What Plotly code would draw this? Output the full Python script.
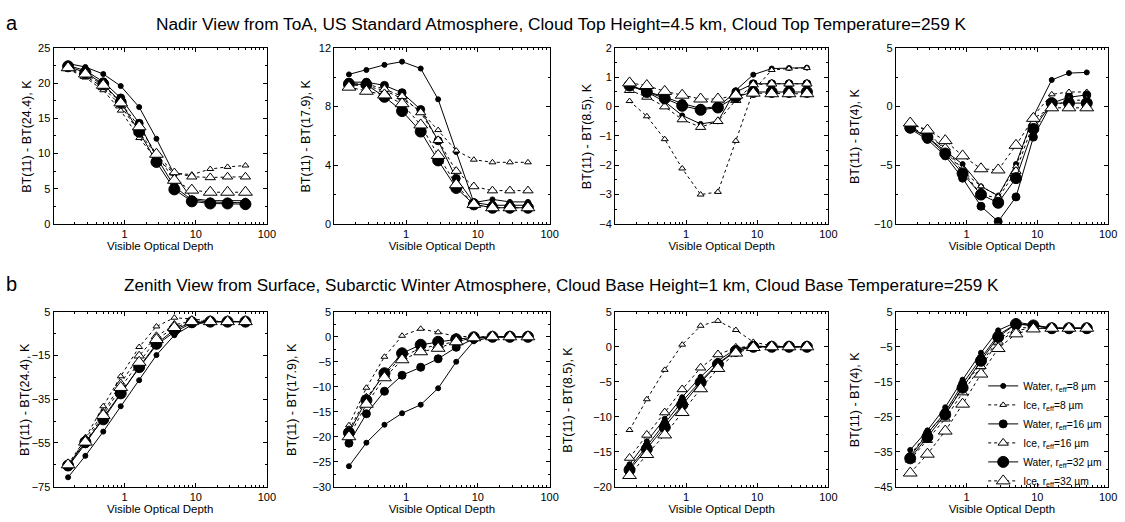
import plotly.graph_objects as go

# Visible optical depth (x values shared by every panel)
tau = [0.16, 0.28, 0.5, 0.88, 1.6, 2.8, 5.0, 8.8, 16, 28, 50]

series_names = ["Water, r<sub>eff</sub>=8 µm", "Ice, r<sub>eff</sub>=8 µm",
                "Water, r<sub>eff</sub>=16 µm", "Ice, r<sub>eff</sub>=16 µm",
                "Water, r<sub>eff</sub>=32 µm", "Ice, r<sub>eff</sub>=32 µm"]

# Row a: Nadir view from ToA
a1_w8 = [22.8, 22.3, 21.3, 19.6, 16.6, 12.1, 7.0, 3.6, 3.3, 3.3, 3.3]
a1_i8 = [22.0, 20.8, 19.0, 16.1, 12.2, 9.2, 7.2, 7.0, 7.8, 8.1, 8.3]
a1_w16 = [22.5, 21.8, 20.2, 17.9, 14.3, 9.5, 5.3, 3.4, 3.1, 3.0, 3.0]
a1_i16 = [22.1, 21.0, 19.4, 16.8, 13.0, 9.8, 7.3, 6.7, 6.6, 6.7, 6.7]
a1_w32 = [22.4, 21.5, 19.9, 17.3, 13.1, 8.8, 4.9, 3.2, 2.9, 2.9, 2.8]
a1_i32 = [22.2, 21.3, 19.7, 17.2, 13.8, 9.9, 6.2, 4.8, 4.5, 4.5, 4.5]

a2_w8 = [10.2, 10.5, 10.85, 11.07, 10.6, 8.5, 4.9, 1.45, 1.67, 1.5, 1.5]
a2_i8 = [9.5, 9.4, 9.1, 8.55, 7.7, 6.4, 5.0, 4.38, 4.2, 4.2, 4.2]
a2_w16 = [9.67, 9.67, 9.45, 8.95, 7.8, 5.67, 3.1, 1.45, 1.27, 1.27, 1.27]
a2_i16 = [9.55, 9.55, 9.2, 8.7, 7.6, 5.7, 3.6, 2.55, 2.27, 2.27, 2.27]
a2_w32 = [9.55, 9.5, 8.67, 7.7, 6.3, 4.33, 2.45, 1.33, 1.1, 1.1, 1.1]
a2_i32 = [9.33, 9.05, 8.8, 8.2, 6.75, 4.67, 2.67, 1.33, 1.1, 1.1, 1.1]

a3_w8 = [0.72, 0.5, 0.17, -0.3, -0.59, -0.5, 0.56, 1.09, 1.3, 1.32, 1.33]
a3_i8 = [0.19, -0.33, -1.11, -2.11, -3.0, -2.91, -1.17, 0.55, 1.25, 1.3, 1.32]
a3_w16 = [0.74, 0.52, 0.33, 0.11, -0.06, 0.0, 0.5, 0.78, 0.78, 0.78, 0.78]
a3_i16 = [0.56, 0.33, 0.0, -0.44, -0.7, -0.5, 0.22, 0.75, 0.78, 0.78, 0.78]
a3_w32 = [0.72, 0.5, 0.28, 0.03, -0.11, -0.03, 0.33, 0.5, 0.5, 0.5, 0.5]
a3_i32 = [0.81, 0.72, 0.52, 0.39, 0.26, 0.26, 0.39, 0.46, 0.44, 0.44, 0.44]

a4_w8 = [-1.8, -2.6, -3.8, -4.9, -6.8, -7.6, -4.9, -0.83, 2.28, 2.86, 2.92]
a4_i8 = [-1.4, -2.1, -3.75, -5.5, -6.8, -7.6, -5.1, -0.8, 1.05, 1.25, 1.25]
a4_w16 = [-1.9, -2.8, -4.2, -6.1, -8.5, -9.8, -7.7, -2.6, 0.3, 0.8, 1.0]
a4_i16 = [-1.7, -2.5, -3.5, -5.4, -7.5, -7.8, -5.5, -1.4, 0.0, 0.55, 0.55]
a4_w32 = [-1.8, -2.6, -4.0, -5.7, -7.5, -8.2, -6.1, -1.9, 0.3, 0.3, 0.3]
a4_i32 = [-1.4, -2.0, -2.9, -4.2, -5.3, -5.4, -3.3, -1.0, -0.1, -0.1, -0.1]

# Row b: Zenith view from surface
b1_w8 = [-70.7, -60.9, -49.8, -38.2, -26.3, -14.8, -5.7, -1.0, 0.5, 0.5, 0.5]
b1_i8 = [-66.5, -52.4, -38.2, -24.5, -11.1, -1.7, 2.3, 1.7, 0.8, 0.6, 0.6]
b1_w16 = [-65.8, -55.4, -43.4, -32.3, -20.6, -10.2, -4.2, -0.2, 0.5, 0.5, 0.5]
b1_i16 = [-64.7, -53.4, -41.2, -27.8, -15.1, -6.2, -1.0, 0.8, 0.5, 0.5, 0.5]
b1_w32 = [-65.3, -54.6, -44.2, -32.3, -20.3, -9.6, -3.2, 0.2, 0.5, 0.5, 0.5]
b1_i32 = [-65.0, -54.6, -42.4, -29.6, -18.1, -7.7, -2.2, 0.5, 0.5, 0.5, 0.5]

b2_w8 = [-25.9, -21.2, -17.6, -15.3, -13.6, -10.3, -5.0, -0.9, 0.0, 0.0, 0.0]
b2_i8 = [-17.7, -10.2, -4.0, 0.2, 1.6, 0.9, 0.1, 0.0, 0.0, 0.0, 0.0]
b2_w16 = [-21.3, -15.4, -10.9, -7.7, -6.1, -4.4, -2.1, -0.4, 0.0, 0.0, 0.0]
b2_i16 = [-18.7, -12.2, -7.6, -4.0, -2.3, -1.7, -0.9, -0.2, 0.0, 0.0, 0.0]
b2_w32 = [-19.2, -12.7, -7.3, -3.3, -1.6, -1.0, -0.5, -0.1, 0.0, 0.0, 0.0]
b2_i32 = [-20.0, -13.5, -8.2, -4.6, -3.0, -2.3, -1.0, -0.2, 0.0, 0.0, 0.0]

b3_w8 = [-16.8, -13.5, -10.3, -7.2, -4.3, -2.0, -0.3, 0.1, 0.0, 0.0, 0.0]
b3_i8 = [-11.9, -7.5, -3.3, 0.3, 3.0, 3.7, 2.4, 0.7, 0.1, 0.0, 0.0]
b3_w16 = [-17.3, -14.2, -11.0, -7.8, -4.9, -2.4, -0.5, 0.0, 0.0, 0.0, 0.0]
b3_i16 = [-15.9, -12.6, -9.4, -6.1, -3.0, -1.1, -0.15, 0.1, 0.0, 0.0, 0.0]
b3_w32 = [-17.6, -14.6, -11.5, -8.3, -5.1, -2.5, -0.6, 0.0, 0.0, 0.0, 0.0]
b3_i32 = [-18.4, -15.4, -12.6, -9.4, -6.0, -3.1, -0.9, -0.1, 0.0, 0.0, 0.0]

b4_w8 = [-34.5, -28.9, -22.3, -14.4, -6.7, -0.3, 2.0, 1.3, 0.3, 0.3, 0.3]
b4_i8 = [-35.9, -29.6, -24.2, -16.7, -9.7, -3.1, 0.6, 0.3, 0.3, 0.3, 0.3]
b4_w16 = [-36.4, -29.8, -23.7, -15.6, -8.3, -1.6, 1.5, 1.1, 0.3, 0.3, 0.3]
b4_i16 = [-37.3, -31.7, -25.6, -18.1, -10.6, -3.6, -0.3, 0.3, 0.3, 0.3, 0.3]
b4_w32 = [-36.9, -30.8, -24.4, -16.7, -9.0, -2.2, 1.5, 1.1, 0.3, 0.3, 0.3]
b4_i32 = [-41.1, -35.7, -29.1, -21.4, -12.8, -5.5, -1.3, 0.1, 0.3, 0.3, 0.3]

panels = [
    [a1_w8, a1_i8, a1_w16, a1_i16, a1_w32, a1_i32],
    [a2_w8, a2_i8, a2_w16, a2_i16, a2_w32, a2_i32],
    [a3_w8, a3_i8, a3_w16, a3_i16, a3_w32, a3_i32],
    [a4_w8, a4_i8, a4_w16, a4_i16, a4_w32, a4_i32],
    [b1_w8, b1_i8, b1_w16, b1_i16, b1_w32, b1_i32],
    [b2_w8, b2_i8, b2_w16, b2_i16, b2_w32, b2_i32],
    [b3_w8, b3_i8, b3_w16, b3_i16, b3_w32, b3_i32],
    [b4_w8, b4_i8, b4_w16, b4_i16, b4_w32, b4_i32],
]

y_titles = ["BT(11) - BT(24.4), K", "BT(11) - BT(17.9), K", "BT(11) - BT(8.5), K", "BT(11) - BT(4), K",
            "BT(11) - BT(24.4), K", "BT(11) - BT(17.9), K", "BT(11) - BT(8.5), K", "BT(11) - BT(4), K"]
y_ranges = [(0, 25), (0, 12), (-4, 2), (-10, 5), (-75, 5), (-30, 5), (-20, 5), (-45, 5)]
y_dticks = [5, 4, 1, 5, 20, 5, 5, 10]
x_ticks = [1, 10, 100]
x_minor = [m * d for d in (0.1, 1, 10) for m in range(2, 10)]
x_title = "Visible Optical Depth"

title_a = "Nadir View from ToA, US Standard Atmosphere, Cloud Top Height=4.5 km, Cloud Top Temperature=259 K"
title_b = "Zenith View from Surface, Subarctic Winter Atmosphere, Cloud Base Height=1 km, Cloud Base Temperature=259 K"

# ---------------- styling / layout ----------------
W, H = 1125, 522
col_px = [(54, 269), (337, 554), (620, 835), (903, 1117)]
row_px = [(43, 223), (313, 492)]
ytitle_x_px = [27, 308, 592, 862, 25, 295, 573, 862]
FONT = "Arial, Liberation Sans, Helvetica, sans-serif"

styles = [
    dict(symbol="circle", size=5, fill="black", dash="solid"),
    dict(symbol="triangle-up", size=6, fill="white", dash="dot"),
    dict(symbol="circle", size=8, fill="black", dash="solid"),
    dict(symbol="triangle-up", size=9, fill="white", dash="dot"),
    dict(symbol="circle", size=11, fill="black", dash="solid"),
    dict(symbol="triangle-up", size=12, fill="white", dash="dot"),
]

fig = go.Figure()
layout = {}
annotations = []
for p, series in enumerate(panels):
    r, c = divmod(p, 4)
    ax = "" if p == 0 else str(p + 1)
    for s, (vals, st) in enumerate(zip(series, styles)):
        fig.add_trace(go.Scatter(
            x=tau, y=vals, mode="lines+markers", name=series_names[s],
            xaxis="x" + ax, yaxis="y" + ax,
            showlegend=(p == 7),
            line=dict(color="black", width=1, dash=st["dash"]),
            marker=dict(symbol=st["symbol"], size=st["size"], color=st["fill"],
                        line=dict(color="black", width=1)),
        ))
    x0, x1 = col_px[c]
    y0, y1 = row_px[r]
    common = dict(showline=True, linecolor="black", linewidth=1, mirror="ticks",
                  ticks="inside", ticklen=4, tickcolor="black", showgrid=False,
                  zeroline=False, tickfont=dict(size=11, color="black", family=FONT))
    layout["xaxis" + ax] = dict(
        common, type="log", range=[-1, 2], domain=[x0 / W, x1 / W],
        anchor="y" + ax, tickmode="array", tickvals=x_ticks, ticktext=[str(v) for v in x_ticks],
        minor=dict(ticks="inside", ticklen=2, tickcolor="black", showgrid=False,
                   tickmode="array", tickvals=x_minor),
        title=dict(text=x_title, font=dict(size=11.5, color="black", family=FONT), standoff=2),
    )
    lo, hi = y_ranges[p]
    layout["yaxis" + ax] = dict(
        common, range=[lo, hi], domain=[1 - y1 / H, 1 - y0 / H], anchor="x" + ax,
        tick0=hi, dtick=y_dticks[p],
        minor=dict(ticks="inside", ticklen=2, tickcolor="black", dtick=y_dticks[p] / 2, tick0=hi),
    )
    annotations.append(dict(
        text=y_titles[p], x=ytitle_x_px[p] / W, y=1 - (y0 + y1) / 2 / H,
        xref="paper", yref="paper", showarrow=False, textangle=-90,
        xanchor="center", yanchor="middle",
        font=dict(size=12.5, color="black", family=FONT)))

annotations += [
    dict(text="a", x=12 / W, y=1 - 17 / H, xref="paper", yref="paper", showarrow=False,
         xanchor="center", yanchor="middle", font=dict(size=20, color="black", family=FONT)),
    dict(text=title_a, x=566 / W, y=1 - 18 / H, xref="paper", yref="paper", showarrow=False,
         xanchor="center", yanchor="middle", font=dict(size=17.3, color="black", family=FONT)),
    dict(text="b", x=12 / W, y=1 - 285 / H, xref="paper", yref="paper", showarrow=False,
         xanchor="center", yanchor="middle", font=dict(size=20, color="black", family=FONT)),
    dict(text=title_b, x=566 / W, y=1 - 286 / H, xref="paper", yref="paper", showarrow=False,
         xanchor="center", yanchor="middle", font=dict(size=17.1, color="black", family=FONT)),
]

fig.update_layout(
    **layout,
    width=W, height=H, margin=dict(l=0, r=0, t=0, b=0),
    paper_bgcolor="white", plot_bgcolor="white",
    font=dict(family=FONT, color="black"),
    legend=dict(x=0.881, y=1 - 374 / H, xanchor="left", yanchor="top", bgcolor="rgba(0,0,0,0)",
                font=dict(size=10.3, color="black", family=FONT), tracegroupgap=0,
                itemwidth=30),
    annotations=annotations,
)

fig.write_html("out.html", config={"displayModeBar": False},
               post_script="document.body.style.margin='0';document.body.style.overflow='hidden';")
